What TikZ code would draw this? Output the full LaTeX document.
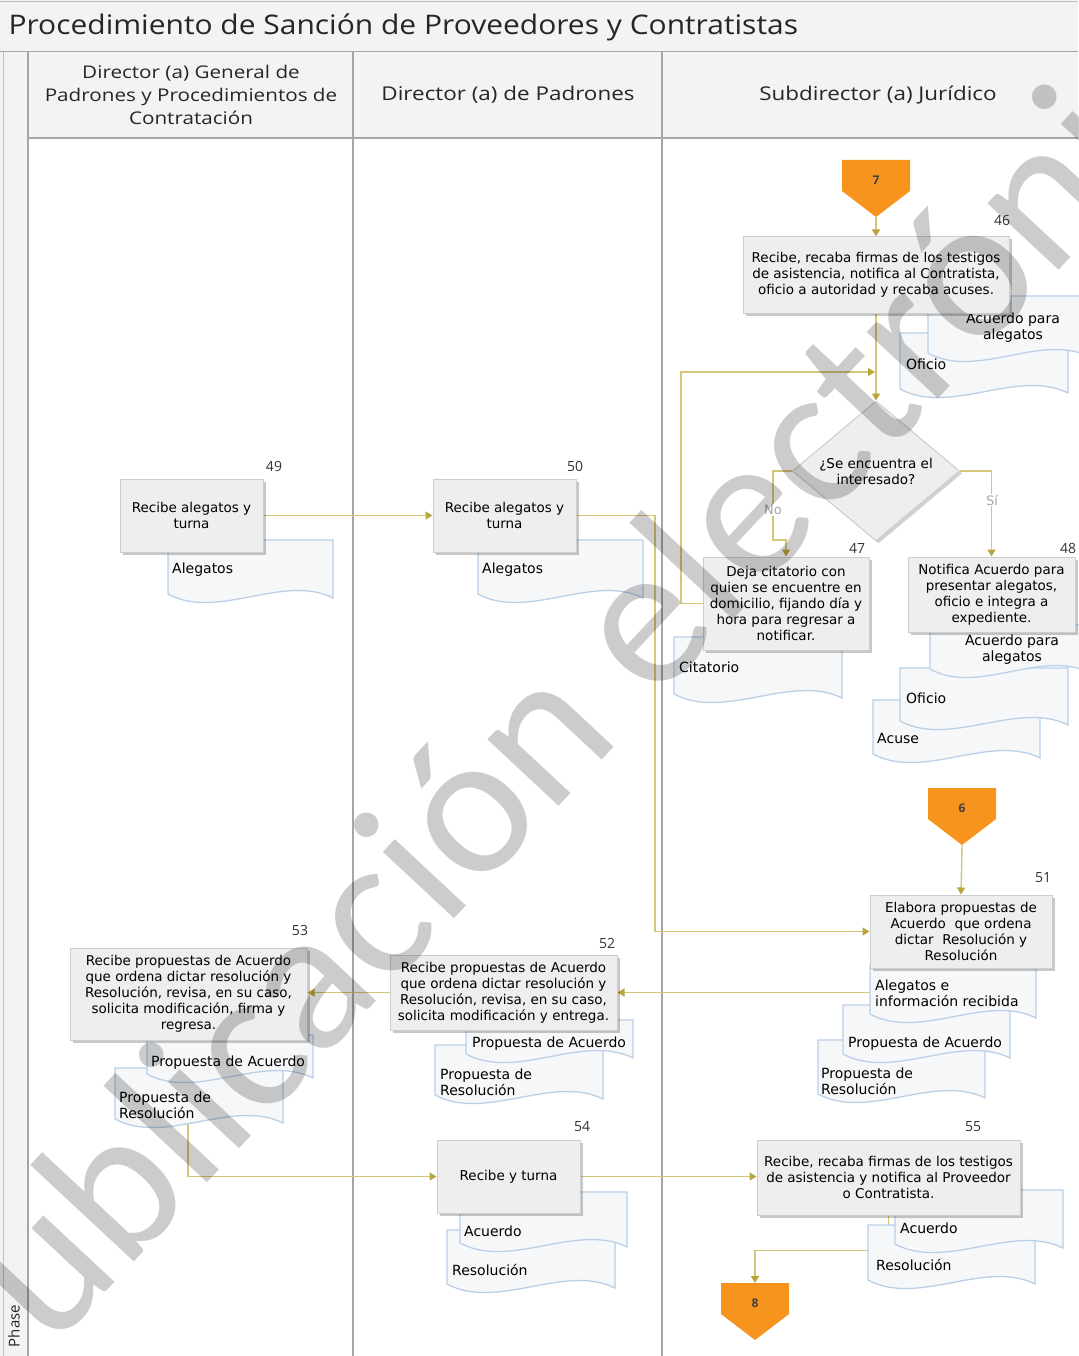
\documentclass[tikz,border=0pt]{standalone}
\usepackage{fontspec}
\setmainfont{DejaVu Sans}
\newfontfamily\hdrfont[FakeStretch=1.18]{Open Sans}
\newfontfamily\titlefont[FakeStretch=1.11]{Open Sans}
\newfontfamily\numfont{Open Sans}
\newfontfamily\wmfont{Carlito}
\usetikzlibrary{shapes.geometric,arrows.meta,shadows}
\pgfdeclarelayer{lanesl}
\pgfdeclarelayer{flowsl}
\pgfdeclarelayer{docsl}
\pgfdeclarelayer{frontl}
\pgfsetlayers{lanesl,flowsl,docsl,main,frontl}
\definecolor{flowc}{RGB}{212,198,120}
\definecolor{flowtip}{RGB}{185,165,60}
\definecolor{boxfill}{RGB}{238,238,238}
\definecolor{boxline}{RGB}{205,205,205}
\definecolor{docline}{RGB}{185,208,232}
\definecolor{docfill}{RGB}{246,247,249}
\definecolor{offpagec}{RGB}{247,148,30}
\definecolor{lanefill}{RGB}{243,243,243}
\definecolor{laneline}{RGB}{165,165,165}
\tikzset{
  proc/.style={draw=boxline, fill=boxfill, line width=1pt, align=center, inner sep=2pt,
    font=\fontsize{13.5}{16}\selectfont,
    drop shadow={shadow xshift=2.5pt, shadow yshift=-2.5pt, fill=black, opacity=0.22}},
  docst/.style={draw=docline, fill=docfill, line width=1.3pt},
  doctext/.style={font=\fontsize{14}{16}\selectfont, inner sep=0pt},
  flow/.style={draw=flowc, line width=1.4pt, -{Triangle[width=8pt,length=7pt,color=flowtip]}},
  num/.style={font=\numfont\fontsize{14}{16}\selectfont, text=black!80},
  hdr/.style={font=\hdrfont\fontsize{19}{23}\selectfont, align=center, text=black!85},
  branch/.style={font=\fontsize{13}{14}\selectfont, text=black!35, fill=white, inner sep=1pt}
}
% name, x1, y1, x2, y2, text options, tx, ty, text
\newcommand{\docshape}[9]{%
  \path[docst] (#2,#3) -- (#4,#3) -- (#4,{#5-5})
    .. controls ({#4-0.3*(#4-#2)},{#5-30}) and ({#2+0.3*(#4-#2)},{#5+18}) .. (#2,{#5-9}) -- cycle;
  \node[doctext,#6] (#1) at (#7,#8) {#9};}
% name, cx, ytop, label
\newcommand{\offpage}[4]{%
  \fill[offpagec] ({#2-34},#3) -- ({#2+34},#3) -- ({#2+34},{#3+31}) -- (#2,{#3+57}) -- ({#2-34},{#3+31}) -- cycle;
  \node[font=\numfont\bfseries\fontsize{12}{14}\selectfont, text=black!75] (#1) at (#2,{#3+20}) {#4};
  \coordinate (#1tip) at (#2,{#3+57});
  \coordinate (#1top) at (#2,#3);}
\begin{document}
\begin{tikzpicture}[x=1pt,y=-1pt]
\useasboundingbox (0,0) rectangle (1078,1356);
\begin{pgfonlayer}{lanesl}
\fill[white] (0,0) rectangle (1078,1356);
% title bar
\fill[lanefill] (0,0) rectangle (1078,52);
\draw[laneline!70, line width=1pt] (0,2) -- (1078,2);
\draw[laneline, line width=1.2pt] (0,52) -- (1078,52);
% phase strip
\fill[lanefill] (0,52) rectangle (28,1356);
\draw[laneline!70, line width=1pt] (3,52) -- (3,1356);
% headers
\fill[lanefill] (28,52) rectangle (1078,138);
\draw[laneline, line width=1.5pt] (28,138) -- (1078,138);
\draw[laneline, line width=1.5pt] (28,52) -- (28,1356);
\draw[laneline, line width=1.5pt] (353,52) -- (353,1356);
\draw[laneline, line width=1.5pt] (662,52) -- (662,1356);
\end{pgfonlayer}
\node[anchor=west, font=\titlefont\fontsize{27}{30}\selectfont, text=black!85] (title) at (5,27)
  {Procedimiento de Sanción de Proveedores y Contratistas};
\node[rotate=90, font=\numfont\fontsize{15}{18}\selectfont, text=black!85] (phase) at (14,1326) {Phase};
\node[hdr, font=\hdrfont\fontsize{17.5}{23}\selectfont] (h1) at (191,95) {Director (a) General de\\Padrones y Procedimientos de\\Contratación};
\node[hdr] (h2) at (508,95) {Director (a) de Padrones};
\node[hdr] (h3) at (878,95) {Subdirector (a) Jurídico};

% ---------- process boxes ----------
\node[proc, minimum width=266pt, minimum height=76pt] (b46) at (876,275)
  {Recibe, recaba firmas de los testigos\\de asistencia, notifica al Contratista,\\oficio a autoridad y recaba acuses.};
\node[diamond, draw=boxline, fill=boxfill, line width=1pt, minimum width=167pt, minimum height=102pt,
  inner sep=0pt, align=center, font=\fontsize{13.5}{16}\selectfont,
  drop shadow={shadow xshift=2.5pt, shadow yshift=-2.5pt, fill=black, opacity=0.18}] (dia) at (876,471)
  {¿Se encuentra el\\interesado?};
\node[proc, minimum width=166pt, minimum height=93pt] (b47) at (786,603.5)
  {Deja citatorio con\\quien se encuentre en\\domicilio, fijando día y\\hora para regresar a\\notificar.};
\node[proc, minimum width=167pt, minimum height=75pt] (b48) at (991.5,594.5)
  {Notifica Acuerdo para\\presentar alegatos,\\oficio e integra a\\expediente.};
\node[proc, minimum width=143pt, minimum height=73pt] (b49) at (191.5,515.5) {Recibe alegatos y\\turna};
\node[proc, minimum width=143pt, minimum height=73pt] (b50) at (504.5,515.5) {Recibe alegatos y\\turna};
\node[proc, minimum width=182pt, minimum height=73pt] (b51) at (961,931.5)
  {Elabora propuestas de\\Acuerdo\ \ que ordena\\dictar\ \ Resolución y\\Resolución};
\node[proc, minimum width=227pt, minimum height=75pt] (b52) at (503.5,992.5)
  {Recibe propuestas de Acuerdo\\que ordena dictar resolución y\\Resolución, revisa, en su caso,\\solicita modificación y entrega.};
\node[proc, minimum width=237pt, minimum height=92pt] (b53) at (188.5,994)
  {Recibe propuestas de Acuerdo\\que ordena dictar resolución y\\Resolución, revisa, en su caso,\\solicita modificación, firma y\\regresa.};
\node[proc, minimum width=143pt, minimum height=73pt] (b54) at (508.5,1176.5) {Recibe y turna};
\node[proc, minimum width=263pt, minimum height=75pt] (b55) at (888.5,1177.5)
  {Recibe, recaba firmas de los testigos\\de asistencia y notifica al Proveedor\\o Contratista.};

% off-page connectors
\offpage{c7}{876}{160}{7}
\offpage{c6}{962}{788}{6}
\offpage{c8}{755}{1283}{8}

% step numbers
\node[num] (n46) at (1002,220) {46};
\node[num] (n47) at (857,548) {47};
\node[num] (n48) at (1068,548) {48};
\node[num] (n49) at (274,466) {49};
\node[num] (n50) at (575,466) {50};
\node[num] (n51) at (1043,878) {51};
\node[num] (n52) at (607,943) {52};
\node[num] (n53) at (300,930) {53};
\node[num] (n54) at (582,1127) {54};
\node[num] (n55) at (973,1127) {55};

% coordinates for free ends
\coordinate (lp) at (681,372);
\coordinate (jn) at (875,372);
\coordinate (nojog) at (773,540);
\coordinate (r50) at (655,515.5);
\coordinate (o51) at (870,992.5);
\coordinate (o53) at (188,1122);

% ---------- flows ----------
\begin{pgfonlayer}{flowsl}
\draw[flow] (c7tip) -- (b46.north);
\draw[flow] (b46.south) -- (dia.north);
\draw[flow] (b47.west) -| (lp) -- (jn);
\draw[flow] (dia.west) -| (nojog) -| (b47.north);
\draw[flow] (dia.east) -| (b48.north);
\draw[flow] (b49.east) -- (b50.west);
\draw[flow] (b50.east) -- (r50) |- (b51.west);
\draw[flow] (c6tip) -- (b51.north);
\draw[flow] (o51) -- (o51 -| b52.east);
\draw[flow] (b52.west) -- (b52.west -| b53.east);
\draw[flow] (o53) |- (b54.west);
\draw[flow] (b54.east) -- (b54.east -| b55.west);
\draw[flow] (b55.south) -- ++(0,35) -| (c8top);
\end{pgfonlayer}
\node[branch] (lno) at (773,510) {No};
\node[branch] (lsi) at (992,500) {Sí};

% ---------- documents (back ones first) ----------
\begin{pgfonlayer}{docsl}
\docshape{d46b}{900}{333}{1068}{398}{anchor=west}{906}{364}{Oficio}
\docshape{d46a}{928}{296}{1090}{362}{anchor=center, align=center}{1013}{328}{Acuerdo para\\alegatos}
\docshape{d47}{674}{637}{842}{703}{anchor=west}{679}{667}{Citatorio}
\docshape{d48c}{873}{700}{1040}{763}{anchor=west}{877}{738}{Acuse}
\docshape{d48b}{900}{668}{1068}{730}{anchor=west}{906}{698}{Oficio}
\docshape{d48a}{930}{625}{1090}{678}{anchor=center, align=center}{1012}{650}{Acuerdo para\\alegatos}
\docshape{d49}{168}{540}{333}{603}{anchor=west}{172}{570}{Alegatos}
\docshape{d50}{478}{540}{643}{603}{anchor=west}{482}{570}{Alegatos}
\docshape{d51c}{818}{1040}{985}{1103}{anchor=west, align=left}{821}{1081}{Propuesta de\\Resolución}
\docshape{d51b}{843}{1005}{1010}{1063}{anchor=west}{848}{1044}{Propuesta de Acuerdo}
\docshape{d51a}{870}{965}{1036}{1023}{anchor=west, align=left}{875}{993}{Alegatos e\\información recibida}
\docshape{d52b}{435}{1045}{603}{1104}{anchor=west, align=left}{440}{1082}{Propuesta de\\Resolución}
\docshape{d52a}{466}{1020}{633}{1063}{anchor=west}{472}{1044}{Propuesta de Acuerdo}
\docshape{d53b}{115}{1068}{283}{1128}{anchor=west, align=left}{119}{1105}{Propuesta de\\Resolución}
\docshape{d53a}{147}{1035}{313}{1083}{anchor=west}{151}{1063}{Propuesta de Acuerdo}
\docshape{d54b}{447}{1230}{615}{1293}{anchor=west}{452}{1270}{Resolución}
\docshape{d54a}{460}{1192}{627}{1252}{anchor=west}{464}{1231}{Acuerdo}
\docshape{d55b}{868}{1225}{1035}{1289}{anchor=west}{876}{1265}{Resolución}
\docshape{d55a}{895}{1190}{1063}{1253}{anchor=west}{900}{1228}{Acuerdo}
\end{pgfonlayer}

% watermark
\begin{pgfonlayer}{frontl}
\node[rotate=47, font=\wmfont\fontsize{204}{204}\selectfont, text=black, text opacity=0.2] (wm) at (578,683)
  {Publicación electrónica};
\end{pgfonlayer}
\end{tikzpicture}
\end{document}
